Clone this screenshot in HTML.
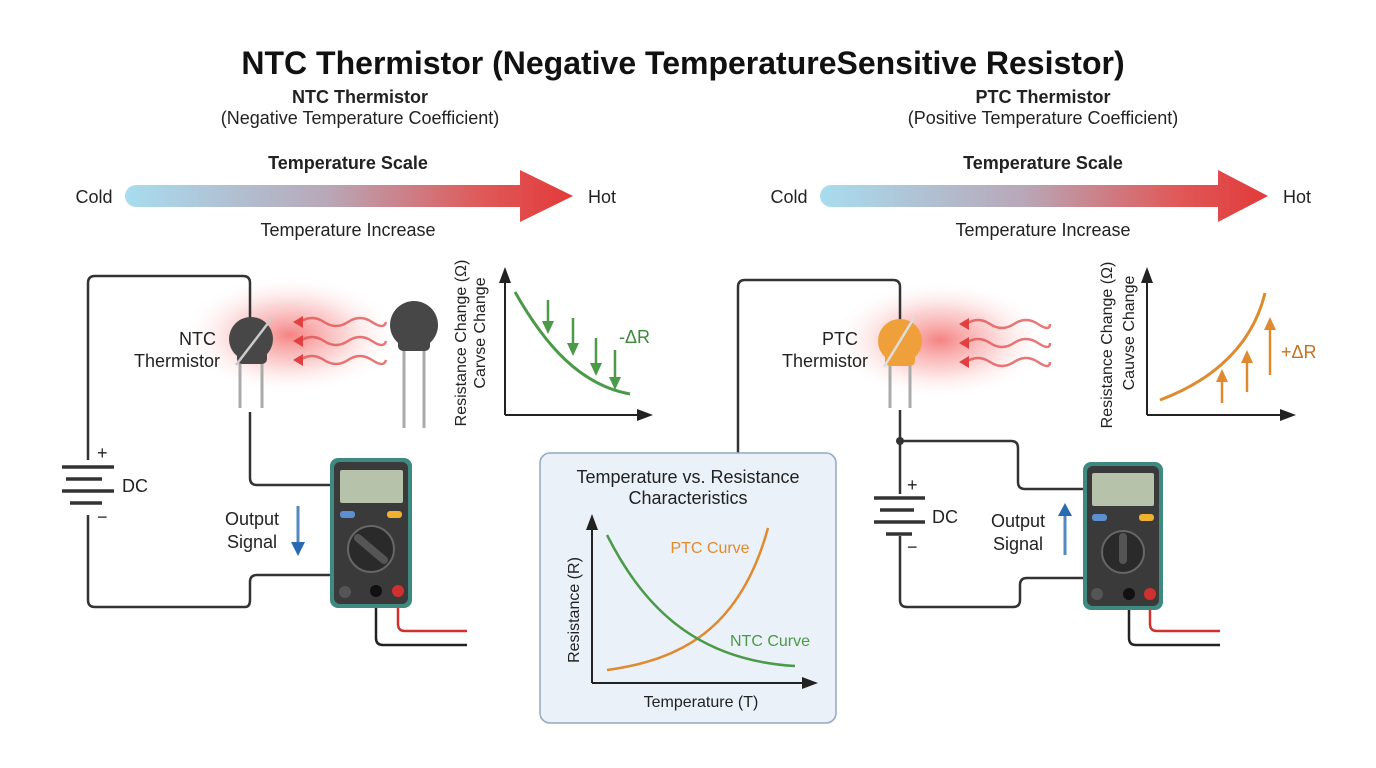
<!DOCTYPE html>
<html><head><meta charset="utf-8"><style>
html,body{margin:0;padding:0;background:#fff;}
svg{display:block;font-family:"Liberation Sans",Arial,sans-serif;}
</style></head><body>
<svg width="1376" height="768" viewBox="0 0 1376 768" xmlns="http://www.w3.org/2000/svg">
<defs>
<linearGradient id="tg" x1="0" x2="1" y1="0" y2="0">
<stop offset="0" stop-color="#a8dcef"/><stop offset="0.45" stop-color="#b8a8b8"/><stop offset="0.8" stop-color="#e05858"/><stop offset="1" stop-color="#e23a3a"/>
</linearGradient>
<radialGradient id="glow"><stop offset="0" stop-color="#f04040" stop-opacity="0.65"/><stop offset="0.5" stop-color="#f47070" stop-opacity="0.3"/><stop offset="1" stop-color="#fff" stop-opacity="0"/></radialGradient>
<marker id="ga" markerUnits="userSpaceOnUse" markerWidth="14" markerHeight="14" refX="7" refY="7" orient="auto"><path d="M0,1 L13,7 L0,13z" fill="#4a9a48"/></marker>
<marker id="oa" markerUnits="userSpaceOnUse" markerWidth="14" markerHeight="14" refX="7" refY="7" orient="auto"><path d="M0,1 L13,7 L0,13z" fill="#e08a30"/></marker>
<marker id="ka" markerUnits="userSpaceOnUse" markerWidth="16" markerHeight="16" refX="12" refY="8" orient="auto"><path d="M0,2 L16,8 L0,14z" fill="#222"/></marker>
</defs>

<text x="683" y="74" font-size="32" font-weight="bold" text-anchor="middle" fill="#111">NTC Thermistor  (Negative TemperatureSensitive Resistor)</text>

<g font-size="18" text-anchor="middle" fill="#222">
<text x="360" y="103" font-weight="bold">NTC Thermistor</text>
<text x="360" y="124">(Negative Temperature Coefficient)</text>
<text x="1043" y="103" font-weight="bold">PTC Thermistor</text>
<text x="1043" y="124">(Positive Temperature Coefficient)</text>
<text x="348" y="169" font-weight="bold">Temperature Scale</text>
<text x="1043" y="169" font-weight="bold">Temperature Scale</text>
<text x="348" y="236">Temperature Increase</text>
<text x="1043" y="236">Temperature Increase</text>
<text x="94" y="203">Cold</text><text x="602" y="203">Hot</text>
<text x="789" y="203">Cold</text><text x="1297" y="203">Hot</text>
</g>
<path d="M136,185 H520 V170 L573,196 L520,222 V207 H136 A11,11 0 0 1 136,185z" fill="url(#tg)"/>
<path d="M831,185 H1218 V170 L1268,196 L1218,222 V207 H831 A11,11 0 0 1 831,185z" fill="url(#tg)"/>

<ellipse cx="290" cy="335" rx="110" ry="60" fill="url(#glow)"/>
<ellipse cx="940" cy="340" rx="110" ry="60" fill="url(#glow)"/>

<g fill="none" stroke="#333" stroke-width="2.5">
<path d="M250,320 V283 Q250,276 243,276 H95 Q88,276 88,283 V460"/>
<path d="M88,515 V600 Q88,607 95,607 H245 Q250,607 250,600 V582 Q250,575 257,575 H330"/>
<path d="M250,412 V478 Q250,485 257,485 H330"/>
<path d="M376,595 V638 Q376,645 383,645 H467" stroke="#222"/>
</g>
<path d="M398,595 V624 Q398,631 405,631 H467" fill="none" stroke="#d03030" stroke-width="2.5"/>
<rect x="84" y="462" width="8" height="48" fill="#fff"/>
<g stroke="#333" stroke-width="3.5"><line x1="62" y1="467" x2="114" y2="467"/><line x1="66" y1="479" x2="102" y2="479"/><line x1="62" y1="491" x2="114" y2="491"/><line x1="70" y1="503" x2="102" y2="503"/></g>
<g font-size="18" fill="#222"><text x="97" y="459">+</text><text x="122" y="492">DC</text><text x="97" y="523">−</text></g>

<g font-size="18" fill="#222" text-anchor="end"><text x="216" y="345">NTC</text><text x="220" y="367">Thermistor</text></g>
<line x1="240" y1="355" x2="240" y2="408" stroke="#aaa" stroke-width="3"/><line x1="262" y1="355" x2="262" y2="408" stroke="#aaa" stroke-width="3"/>
<circle cx="251" cy="339" r="22" fill="#474747"/><rect x="237" y="350" width="30" height="14" rx="5" fill="#474747"/>
<path d="M236,365 L272,318" stroke="#ccc" stroke-width="2.5" fill="none"/>
<g fill="none" stroke="#e04a4a" stroke-width="2.5" stroke-opacity="0.75">
<path d="M300,322 q12,-8 24,0 t24,0 t24,0 t14,0"/>
<path d="M300,341 q12,-8 24,0 t24,0 t24,0 t14,0"/>
<path d="M300,360 q12,-8 24,0 t24,0 t24,0 t14,0"/>
</g>
<g fill="#e04040"><path d="M293,322 l10,-6 v12z"/><path d="M293,341 l10,-6 v12z"/><path d="M293,360 l10,-6 v12z"/></g>
<line x1="404" y1="340" x2="404" y2="428" stroke="#aaa" stroke-width="3"/><line x1="424" y1="340" x2="424" y2="428" stroke="#aaa" stroke-width="3"/>
<circle cx="414" cy="325" r="24" fill="#474747"/><rect x="398" y="335" width="32" height="16" rx="5" fill="#474747"/>

<g fill="none" stroke="#222" stroke-width="2">
<path d="M505,415 V271" marker-end="url(#ka)"/><path d="M505,415 H649" marker-end="url(#ka)"/>
</g>
<path d="M515,292 C545,345 580,385 630,394" fill="none" stroke="#4a9a48" stroke-width="3"/>
<g stroke="#4a9a48" stroke-width="2.5" marker-end="url(#ga)"><line x1="548" y1="300" x2="548" y2="328"/><line x1="573" y1="318" x2="573" y2="350"/><line x1="596" y1="338" x2="596" y2="370"/><line x1="615" y1="350" x2="615" y2="384"/></g>
<text x="619" y="343" font-size="18" fill="#3a8a38">-ΔR</text>
<g font-size="16" fill="#222" text-anchor="middle">
<text transform="translate(466,343) rotate(-90)">Resistance Change (Ω)</text>
<text transform="translate(485,333) rotate(-90)">Carvse Change</text>
</g>
<text x="252" y="525" font-size="18" fill="#222" text-anchor="middle">Output</text><text x="252" y="548" font-size="18" fill="#222" text-anchor="middle">Signal</text>
<line x1="298" y1="506" x2="298" y2="545" stroke="#2a6ab0" stroke-width="3" stroke-opacity="0.8"/><path d="M291,542 L298,556 L305,542z" fill="#2a6ab0"/>

<g>
<rect x="330" y="458" width="82" height="150" rx="8" fill="#3e8a80"/>
<rect x="334" y="462" width="74" height="142" rx="6" fill="#3a3a3a"/>
<rect x="340" y="470" width="63" height="33" rx="2" fill="#b7c2aa"/>
<rect x="340" y="511" width="15" height="7" rx="3" fill="#5b8fd0"/><rect x="387" y="511" width="15" height="7" rx="3" fill="#f0b030"/>
<circle cx="371" cy="549" r="23" fill="#2a2a2a" stroke="#666" stroke-width="2"/>
<path d="M358,538 L384,560" stroke="#555" stroke-width="8" stroke-linecap="round"/>
<circle cx="345" cy="592" r="6" fill="#555"/><circle cx="376" cy="591" r="6" fill="#111"/><circle cx="398" cy="591" r="6" fill="#d03030"/>
</g>

<path d="M738,453 V287 Q738,280 745,280 H893 Q900,280 900,287 V320" fill="none" stroke="#333" stroke-width="2.5"/>
<rect x="540" y="453" width="296" height="270" rx="10" fill="#eaf1f9" stroke="#8fa9c4" stroke-width="1.5"/>
<g font-size="18" fill="#222" text-anchor="middle"><text x="688" y="483">Temperature vs. Resistance</text><text x="688" y="504">Characteristics</text></g>
<g fill="none" stroke="#222" stroke-width="2"><path d="M592,683 V518" marker-end="url(#ka)"/><path d="M592,683 H814" marker-end="url(#ka)"/></g>
<path d="M607,670 C680,660 740,630 768,528" fill="none" stroke="#e08a30" stroke-width="2.5"/>
<path d="M607,535 C640,600 690,660 795,666" fill="none" stroke="#4a9a48" stroke-width="2.5"/>
<text x="710" y="553" font-size="16" fill="#e08a30" text-anchor="middle">PTC Curve</text>
<text x="770" y="646" font-size="16" fill="#4a9a48" text-anchor="middle">NTC Curve</text>
<text transform="translate(579,610) rotate(-90)" font-size="16" fill="#222" text-anchor="middle">Resistance (R)</text>
<text x="701" y="707" font-size="16" fill="#222" text-anchor="middle">Temperature (T)</text>

<g fill="none" stroke="#333" stroke-width="2.5">
<path d="M900,410 V495"/><path d="M900,535 V600 Q900,607 907,607 H1013 Q1020,607 1020,600 V585 Q1020,578 1027,578 H1083"/>
<path d="M900,441 H1011 Q1018,441 1018,448 V482 Q1018,489 1025,489 H1083"/>
<path d="M1129,595 V638 Q1129,645 1136,645 H1220" stroke="#222"/>
</g>
<path d="M1150,595 V624 Q1150,631 1157,631 H1220" fill="none" stroke="#d03030" stroke-width="2.5"/>
<circle cx="900" cy="441" r="4" fill="#333"/>
<rect x="896" y="494" width="8" height="42" fill="#fff"/>
<g stroke="#333" stroke-width="3.5"><line x1="874" y1="498" x2="925" y2="498"/><line x1="880" y1="510" x2="914" y2="510"/><line x1="874" y1="522" x2="925" y2="522"/><line x1="886" y1="534" x2="912" y2="534"/></g>
<g font-size="18" fill="#222"><text x="907" y="491">+</text><text x="932" y="523">DC</text><text x="907" y="553">−</text></g>

<g font-size="18" fill="#222" text-anchor="end"><text x="858" y="345">PTC</text><text x="868" y="367">Thermistor</text></g>
<line x1="890" y1="358" x2="890" y2="408" stroke="#aaa" stroke-width="3"/><line x1="910" y1="358" x2="910" y2="408" stroke="#aaa" stroke-width="3"/>
<circle cx="900" cy="341" r="22" fill="#f0a03a"/><rect x="885" y="352" width="30" height="14" rx="5" fill="#f0a03a"/>
<path d="M884,367 L914,318" stroke="#ddd" stroke-width="2.5" fill="none"/>
<g fill="none" stroke="#e04a4a" stroke-width="2.5" stroke-opacity="0.75">
<path d="M966,324 q12,-8 24,0 t24,0 t24,0 t12,0"/><path d="M966,343 q12,-8 24,0 t24,0 t24,0 t12,0"/><path d="M966,362 q12,-8 24,0 t24,0 t24,0 t12,0"/>
</g>
<g fill="#e04040"><path d="M959,324 l10,-6 v12z"/><path d="M959,343 l10,-6 v12z"/><path d="M959,362 l10,-6 v12z"/></g>

<g fill="none" stroke="#222" stroke-width="2"><path d="M1147,415 V271" marker-end="url(#ka)"/><path d="M1147,415 H1292" marker-end="url(#ka)"/></g>
<path d="M1160,400 C1200,385 1250,355 1265,293" fill="none" stroke="#e08a30" stroke-width="3"/>
<g stroke="#e08a30" stroke-width="2.5" marker-end="url(#oa)"><line x1="1222" y1="403" x2="1222" y2="375"/><line x1="1247" y1="392" x2="1247" y2="356"/><line x1="1270" y1="375" x2="1270" y2="323"/></g>
<text x="1281" y="358" font-size="18" fill="#c8701f">+ΔR</text>
<g font-size="16" fill="#222" text-anchor="middle">
<text transform="translate(1112,345) rotate(-90)">Resistance Change (Ω)</text>
<text transform="translate(1134,333) rotate(-90)">Cauvse Change</text>
</g>
<text x="1018" y="527" font-size="18" fill="#222" text-anchor="middle">Output</text><text x="1018" y="550" font-size="18" fill="#222" text-anchor="middle">Signal</text>
<line x1="1065" y1="555" x2="1065" y2="514" stroke="#2a6ab0" stroke-width="3" stroke-opacity="0.8"/><path d="M1058,516 L1065,503 L1072,516z" fill="#2a6ab0"/>

<g>
<rect x="1083" y="462" width="80" height="148" rx="8" fill="#3e8a80"/>
<rect x="1087" y="466" width="72" height="140" rx="6" fill="#3a3a3a"/>
<rect x="1092" y="473" width="62" height="33" rx="2" fill="#b7c2aa"/>
<rect x="1092" y="514" width="15" height="7" rx="3" fill="#5b8fd0"/><rect x="1139" y="514" width="15" height="7" rx="3" fill="#f0b030"/>
<circle cx="1123" cy="552" r="21" fill="#2a2a2a" stroke="#666" stroke-width="2"/>
<path d="M1123,537 V560" stroke="#555" stroke-width="8" stroke-linecap="round"/>
<circle cx="1097" cy="594" r="6" fill="#555"/><circle cx="1129" cy="594" r="6" fill="#111"/><circle cx="1150" cy="594" r="6" fill="#d03030"/>
</g>
</svg>
</body></html>
